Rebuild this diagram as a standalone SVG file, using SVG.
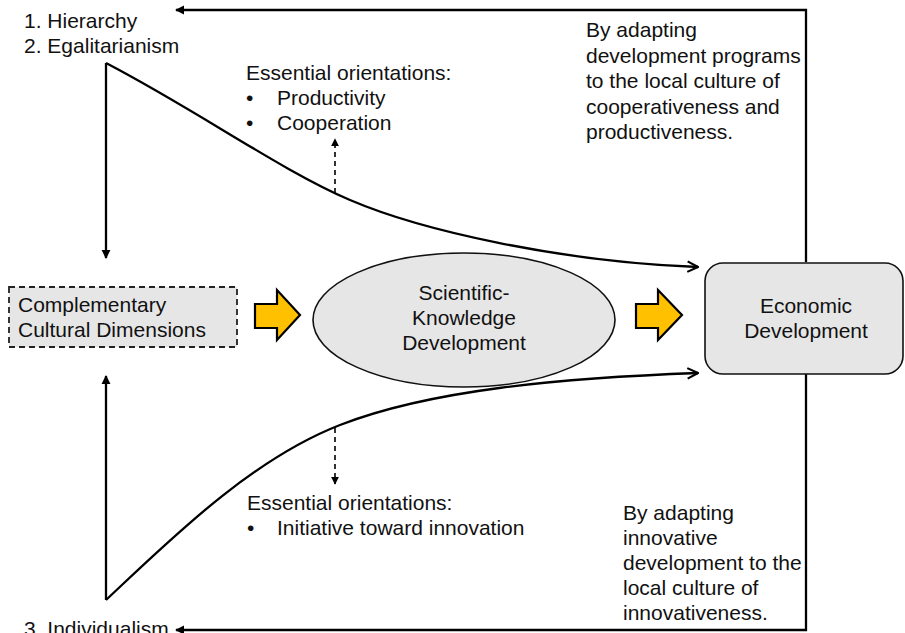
<svg xmlns="http://www.w3.org/2000/svg" width="905" height="633" viewBox="0 0 905 633">
  <style>
    text { font-family: "Liberation Sans", Arial, sans-serif; font-size: 21px; fill: #111; }
    .mid { text-anchor: middle; }
    .line { fill: none; stroke: #000; stroke-width: 2.3; }
    .dash { fill: none; stroke: #000; stroke-width: 1.6; stroke-dasharray: 5 4; }
    .node { fill: #e6e6e6; stroke: #111; stroke-width: 1.6; }
    .block { fill: #ffc000; stroke: #000; stroke-width: 2.2; stroke-linejoin: miter; }
  </style>
  <defs>
    <marker id="tri" viewBox="0 0 10 10" refX="9" refY="5" markerWidth="4" markerHeight="4" orient="auto" markerUnits="strokeWidth">
      <path d="M0,0 L10,5 L0,10 Z" fill="#000"/>
    </marker>
    <marker id="triSmall" viewBox="0 0 10 10" refX="9" refY="5" markerWidth="5" markerHeight="5" orient="auto" markerUnits="strokeWidth">
      <path d="M0,0 L10,5 L0,10 Z" fill="#000"/>
    </marker>
    <marker id="vee" viewBox="0 0 12 12" refX="11" refY="6" markerWidth="5.5" markerHeight="5.5" orient="auto" markerUnits="strokeWidth">
      <path d="M1,1 L11,6 L1,11" fill="none" stroke="#000" stroke-width="2"/>
    </marker>
  </defs>

  <!-- connectors -->
  <g id="connectors">
    <!-- upper branch -->
    <path class="line" d="M106,63 L106,258" marker-end="url(#tri)"/>
    <path class="line" d="M106,63 C200,112 280,170 350,200 S560,262 698,267" marker-end="url(#vee)"/>
    <!-- lower branch -->
    <path class="line" d="M106,600 L106,376" marker-end="url(#tri)"/>
    <path class="line" d="M106,600 C170,540 250,460 340,425 S560,378 698,373" marker-end="url(#vee)"/>
    <!-- feedback loops -->
    <path class="line" d="M806,262 L806,10 L176,10" marker-end="url(#tri)"/>
    <path class="line" d="M806,374 L806,630 L176,630" marker-end="url(#tri)"/>
    <!-- orientation pointers -->
    <path class="dash" d="M335,193 L335,139" marker-end="url(#triSmall)"/>
    <path class="dash" d="M335,428 L335,484" marker-end="url(#triSmall)"/>
  </g>

  <!-- block arrows -->
  <g id="flow-arrows">
    <polygon class="block" points="255,304 277,304 277,290 300,315 277,340 277,328 255,328"/>
    <polygon class="block" points="636,304 658,304 658,290 682,315 658,340 658,328 636,328"/>
  </g>

  <g id="complementary">
    <rect x="9" y="287" width="228" height="60" fill="#e6e6e6" stroke="#222" stroke-width="1.8" stroke-dasharray="6 4"/>
    <text x="18" y="312">Complementary</text>
    <text x="18" y="337">Cultural Dimensions</text>
  </g>

  <g id="scientific">
    <ellipse class="node" cx="464" cy="320" rx="151" ry="67"/>
    <text class="mid" x="464" y="300">Scientific-</text>
    <text class="mid" x="464" y="325">Knowledge</text>
    <text class="mid" x="464" y="350">Development</text>
  </g>

  <g id="economic">
    <rect class="node" x="705" y="263" width="198" height="111" rx="18" ry="18"/>
    <text class="mid" x="806" y="313">Economic</text>
    <text class="mid" x="806" y="338">Development</text>
  </g>

  <g id="dimensions-top">
    <text x="24" y="28">1. Hierarchy</text>
    <text x="24" y="53">2. Egalitarianism</text>
  </g>

  <g id="dimensions-bottom">
    <text x="24" y="636">3. Individualism</text>
  </g>

  <g id="orientations-top">
    <text x="246" y="80">Essential orientations:</text>
    <text x="246" y="105">•</text>
    <text x="277" y="105">Productivity</text>
    <text x="246" y="130">•</text>
    <text x="277" y="130">Cooperation</text>
  </g>

  <g id="orientations-bottom">
    <text x="247" y="510">Essential orientations:</text>
    <text x="247" y="535">•</text>
    <text x="277" y="535">Initiative toward innovation</text>
  </g>

  <g id="adapt-top">
    <text x="586" y="37">By adapting</text>
    <text x="586" y="62.5">development programs</text>
    <text x="586" y="88">to the local culture of</text>
    <text x="586" y="113.5">cooperativeness and</text>
    <text x="586" y="139">productiveness.</text>
  </g>

  <g id="adapt-bottom">
    <text x="623" y="520">By adapting</text>
    <text x="623" y="545">innovative</text>
    <text x="623" y="570">development to the</text>
    <text x="623" y="595">local culture of</text>
    <text x="623" y="620">innovativeness.</text>
  </g>
</svg>
